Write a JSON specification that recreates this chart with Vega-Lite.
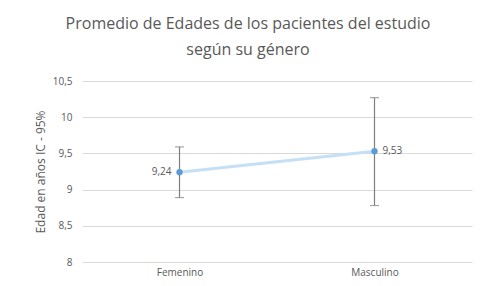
{
  "$schema": "https://vega.github.io/schema/vega-lite/v6.json",
  "width": 390,
  "height": 181,
  "autosize": "none",
  "padding": {"left": 82, "top": 81, "right": 12, "bottom": 24},
  "background": "white",
  "title": {
    "text": ["Promedio de Edades de los pacientes del estudio", "según su género"],
    "font": "Open Sans",
    "fontSize": 16,
    "fontWeight": "normal",
    "color": "#595959",
    "anchor": "middle",
    "dx": -29,
    "offset": 18,
    "lineHeight": 26
  },
  "data": {
    "values": [
      {"genero": "Femenino", "media": 9.24, "lo": 8.89, "hi": 9.59, "label": "9,24"},
      {"genero": "Masculino", "media": 9.53, "lo": 8.78, "hi": 10.27, "label": "9,53"}
    ]
  },
  "encoding": {
    "x": {
      "field": "genero",
      "type": "nominal",
      "scale": {"type": "point", "padding": 0.5},
      "axis": {
        "title": null,
        "labelAngle": 0,
        "ticks": false,
        "domain": false,
        "labelFont": "Open Sans",
        "labelFontSize": 10,
        "labelColor": "#595959",
        "labelPadding": 5
      }
    }
  },
  "layer": [
    {
      "mark": {"type": "line", "color": "#c5e0f6", "strokeWidth": 3},
      "encoding": {
        "y": {
          "field": "media",
          "type": "quantitative",
          "scale": {"domain": [8, 10.5], "nice": false, "zero": false},
          "axis": {
            "values": [8, 8.5, 9, 9.5, 10, 10.5],
            "labelExpr": "replace(format(datum.value, ''), '.', ',')",
            "title": "Edad en años IC - 95%"
          }
        }
      }
    },
    {
      "mark": {"type": "rule", "color": "#7f7f7f", "strokeWidth": 1.2},
      "encoding": {
        "y": {"field": "lo", "type": "quantitative"},
        "y2": {"field": "hi"}
      }
    },
    {
      "mark": {"type": "tick", "color": "#7f7f7f", "size": 9, "thickness": 1.2},
      "encoding": {"y": {"field": "lo", "type": "quantitative"}}
    },
    {
      "mark": {"type": "tick", "color": "#7f7f7f", "size": 9, "thickness": 1.2},
      "encoding": {"y": {"field": "hi", "type": "quantitative"}}
    },
    {
      "mark": {"type": "point", "filled": true, "color": "#5b9bd5", "size": 40, "opacity": 1},
      "encoding": {"y": {"field": "media", "type": "quantitative"}}
    },
    {
      "transform": [{"filter": "datum.genero == 'Femenino'"}],
      "mark": {"type": "text", "align": "right", "dx": -8, "font": "Open Sans", "fontSize": 10, "color": "#595959"},
      "encoding": {"y": {"field": "media", "type": "quantitative"}, "text": {"field": "label"}}
    },
    {
      "transform": [{"filter": "datum.genero == 'Masculino'"}],
      "mark": {"type": "text", "align": "left", "dx": 8, "font": "Open Sans", "fontSize": 10, "color": "#595959"},
      "encoding": {"y": {"field": "media", "type": "quantitative"}, "text": {"field": "label"}}
    }
  ],
  "config": {
    "view": {"stroke": null},
    "axisY": {
      "tickCount": 6,
      "labelOverlap": false,
      "titleFont": "Open Sans",
      "titleFontSize": 12,
      "titleFontWeight": "normal",
      "titleColor": "#595959",
      "titlePadding": 5,
      "labelFont": "Open Sans",
      "labelFontSize": 10,
      "labelColor": "#595959",
      "labelPadding": 10,
      "ticks": false,
      "domain": false,
      "gridColor": "#d9d9d9",
      "gridWidth": 1
    }
  }
}
